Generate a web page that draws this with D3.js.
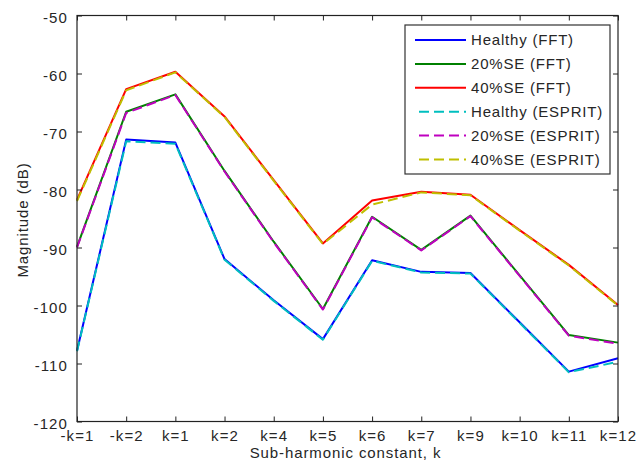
<!DOCTYPE html>
<html>
<head>
<meta charset="utf-8">
<script src="https://cdn.jsdelivr.net/npm/d3@7"></script>
<style>
  html, body { margin: 0; padding: 0; background: #ffffff; }
  svg { display: block; }
  text { font-family: "Liberation Sans", Arial, sans-serif; fill: #262626; }
</style>
</head>
<body>
<svg id="chart" width="636" height="471"></svg>
<script>
// Harmonic categories along the x axis
const categories = ["-k=1", "-k=2", "k=1", "k=2", "k=4", "k=5", "k=6", "k=7", "k=9", "k=10", "k=11", "k=12"];

// Magnitudes in dB for each method and fault severity
const healthyFFT    = [-107.8, -71.4, -71.9, -92.0, -99.1, -105.8, -92.2, -94.2, -94.4, -102.9, -111.4, -109.1];
const se20FFT       = [-89.9, -66.6, -63.6, -76.8, -89.0, -100.6, -84.7, -90.4, -84.5, -94.8, -105.1, -106.4];
const se40FFT       = [-81.8, -62.7, -59.7, -67.4, -78.4, -89.3, -81.9, -80.4, -80.9, -87.0, -93.0, -99.9];
const healthyESPRIT = [-107.9, -71.7, -72.1, -92.1, -99.2, -105.9, -92.3, -94.3, -94.5, -103.0, -111.5, -109.7];
const se20ESPRIT    = [-90.0, -66.8, -63.7, -76.9, -89.1, -100.7, -84.8, -90.5, -84.6, -94.9, -105.2, -106.6];
const se40ESPRIT    = [-82.0, -62.9, -59.8, -67.5, -78.5, -89.4, -82.6, -80.5, -81.0, -87.1, -93.1, -100.0];

const seriesNames = ["Healthy (FFT)", "20%SE (FFT)", "40%SE (FFT)", "Healthy (ESPRIT)", "20%SE (ESPRIT)", "40%SE (ESPRIT)"];
const yTicks = [-50, -60, -70, -80, -90, -100, -110, -120];

const series = [
  { name: seriesNames[0], values: healthyFFT,    color: "#0000ff", dash: null },
  { name: seriesNames[1], values: se20FFT,       color: "#008000", dash: null },
  { name: seriesNames[2], values: se40FFT,       color: "#ff0000", dash: null },
  { name: seriesNames[3], values: healthyESPRIT, color: "#00bfbf", dash: "10,5" },
  { name: seriesNames[4], values: se20ESPRIT,    color: "#bf00bf", dash: "10,5" },
  { name: seriesNames[5], values: se40ESPRIT,    color: "#bfbf00", dash: "10,5" }
];

const svg = d3.select("#chart");
const plot = { left: 77, right: 618, top: 15.5, bottom: 421.5 };

const x = d3.scalePoint().domain(categories).range([plot.left, plot.right]);
const y = d3.scaleLinear().domain([-120, -50]).range([plot.bottom, plot.top]);

// Plot area background
svg.append("rect")
  .attr("x", plot.left).attr("y", plot.top)
  .attr("width", plot.right - plot.left).attr("height", plot.bottom - plot.top)
  .attr("fill", "#ffffff");

// Data lines: FFT solid underneath, ESPRIT dashed on top
const line = d3.line()
  .x((d, i) => x(categories[i]))
  .y(d => y(d));

svg.append("g").selectAll("path")
  .data(series)
  .join("path")
  .attr("d", s => line(s.values))
  .attr("fill", "none")
  .attr("stroke", s => s.color)
  .attr("stroke-width", 2)
  .attr("stroke-linejoin", "round")
  .attr("stroke-dasharray", s => s.dash);

// Axes with inward ticks on all four sides
const tickLen = 5;
const fontSize = 15;
const plainNumber = d => String(d);   // ASCII hyphen for negatives

const bottomAxis = d3.axisBottom(x).tickSizeInner(-tickLen).tickSizeOuter(0).tickPadding(9);
const gB = svg.append("g").attr("transform", `translate(0,${plot.bottom})`).call(bottomAxis);
const topAxis = d3.axisTop(x).tickSizeInner(-tickLen).tickSizeOuter(0).tickFormat("");
const gT = svg.append("g").attr("transform", `translate(0,${plot.top})`).call(topAxis);
const leftAxis = d3.axisLeft(y).tickValues(yTicks).tickFormat(plainNumber)
  .tickSizeInner(-tickLen).tickSizeOuter(0).tickPadding(9);
const gL = svg.append("g").attr("transform", `translate(${plot.left},0)`).call(leftAxis);
const rightAxis = d3.axisRight(y).tickValues(yTicks).tickSizeInner(-tickLen).tickSizeOuter(0).tickFormat("");
const gR = svg.append("g").attr("transform", `translate(${plot.right},0)`).call(rightAxis);

[gB, gT, gL, gR].forEach(g => {
  g.select(".domain").remove();
  g.selectAll(".tick line").attr("stroke", "#222").attr("stroke-width", 1);
  g.selectAll("text")
    .attr("font-family", "Liberation Sans, Arial, sans-serif")
    .attr("font-size", fontSize)
    .attr("letter-spacing", "1.1px")
    .attr("fill", "#262626");
});
gL.selectAll("text").attr("dy", "0.45em");

// Axes box
svg.append("rect")
  .attr("x", plot.left).attr("y", plot.top)
  .attr("width", plot.right - plot.left).attr("height", plot.bottom - plot.top)
  .attr("fill", "none").attr("stroke", "#222").attr("stroke-width", 1.2);

// Axis titles
svg.append("text")
  .attr("x", (plot.left + plot.right) / 2 - 2)
  .attr("y", 458)
  .attr("text-anchor", "middle")
  .attr("font-size", fontSize)
  .attr("letter-spacing", "0.9px")
  .text("Sub-harmonic constant, k");

svg.append("text")
  .attr("transform", `translate(28,220) rotate(-90)`)
  .attr("text-anchor", "middle")
  .attr("font-size", fontSize)
  .attr("letter-spacing", "0.9px")
  .text("Magnitude (dB)");

// Legend
const legend = { x: 405, y: 25, w: 205, h: 149, rowStart: 15, rowStep: 23.9 };
const lg = svg.append("g");
lg.append("rect")
  .attr("x", legend.x).attr("y", legend.y)
  .attr("width", legend.w).attr("height", legend.h)
  .attr("fill", "#ffffff").attr("stroke", "#333").attr("stroke-width", 1.2);

const rows = lg.selectAll("g.row")
  .data(series)
  .join("g")
  .attr("class", "row")
  .attr("transform", (s, i) => `translate(0,${legend.y + legend.rowStart + i * legend.rowStep})`);

rows.append("line")
  .attr("x1", s => s.dash ? 419 : 415).attr("x2", 466)
  .attr("y1", 0).attr("y2", 0)
  .attr("stroke", s => s.color)
  .attr("stroke-width", 2)
  .attr("stroke-dasharray", s => s.dash);

rows.append("text")
  .attr("x", 471)
  .attr("y", 0)
  .attr("dy", "0.36em")
  .attr("font-size", fontSize)
  .attr("letter-spacing", "0.8px")
  .text(s => s.name);
</script>
</body>
</html>
